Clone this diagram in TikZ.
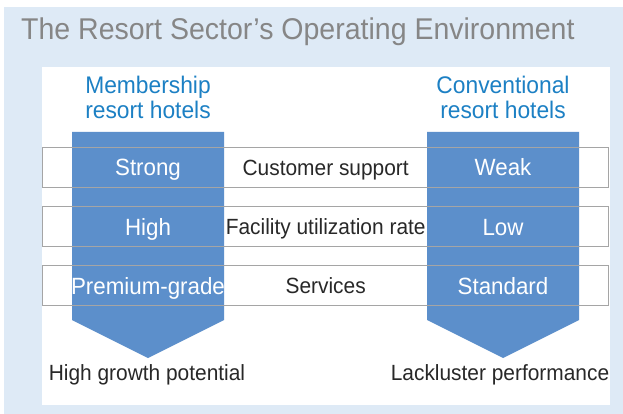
\documentclass[tikz,border=0pt]{standalone}
\usepackage{fontspec}
\setmainfont{Liberation Sans}[FakeStretch=0.95]
\usetikzlibrary{positioning}

\definecolor{panelblue}{RGB}{222,234,246}
\definecolor{chevronblue}{RGB}{92,143,203}
\definecolor{headblue}{RGB}{28,128,196}
\definecolor{titlegray}{RGB}{134,134,134}
\definecolor{linegray}{RGB}{165,165,165}
\definecolor{textdark}{RGB}{40,40,40}

\tikzset{
  heading/.style={font=\fontsize{24}{24.5}\selectfont, text=headblue, align=center, inner sep=0pt},
  rowbox/.style={draw=linegray, line width=0.9pt, minimum width=566pt, minimum height=40pt,
    inner sep=0pt, text height=15.7pt, text depth=0pt, font=\fontsize{22}{24}\selectfont, text=textdark},
  valuetext/.style={inner sep=0pt, text height=16.8pt, text depth=0pt, font=\fontsize{23.5}{24}\selectfont, text=white},
  outcome/.style={inner sep=0pt, anchor=base, font=\fontsize{22}{24}\selectfont, text=textdark}
}

\begin{document}
\begin{tikzpicture}[x=1pt,y=-1pt]
	\useasboundingbox (0,0) rectangle (623,414);
	\fill[panelblue] (4,7) rectangle (623,414);
	\fill[white] (42,67) rectangle (610,405);
	\node[anchor=base west, inner sep=0pt, text=titlegray, font=\fontsize{30}{32}\selectfont] (title) at (21,40) {The Resort Sector's Operating Environment};
	\node[heading] (memb) at (148,97.5) {Membership\\resort hotels};
	\node[heading] (conv) at (503,97.5) {Conventional\\resort hotels};
	\foreach \x in {148,503} {
		\fill[chevronblue] (\x-76,132) -- (\x+76,132) -- (\x+76,320) -- (\x,358) -- (\x-76,320) -- cycle;
	}
	\foreach \i / \y / \m / \what / \c in {1/167.3/Strong/Customer support/Weak, 2/226.7/High/Facility utilization rate/Low, 3/285.7/Premium-grade/Services/Standard} {
		\node[rowbox] (row\i) at (325.7,\y) {\what};
		\node[valuetext] (m\i) at (148,\y) {\m};
		\node[valuetext] (c\i) at (503,\y) {\c};
	}
	\node[outcome] (growth) at (147,380) {High growth potential};
	\node[outcome] (lack) at (500,380) {Lackluster performance};
\end{tikzpicture}
\end{document}
